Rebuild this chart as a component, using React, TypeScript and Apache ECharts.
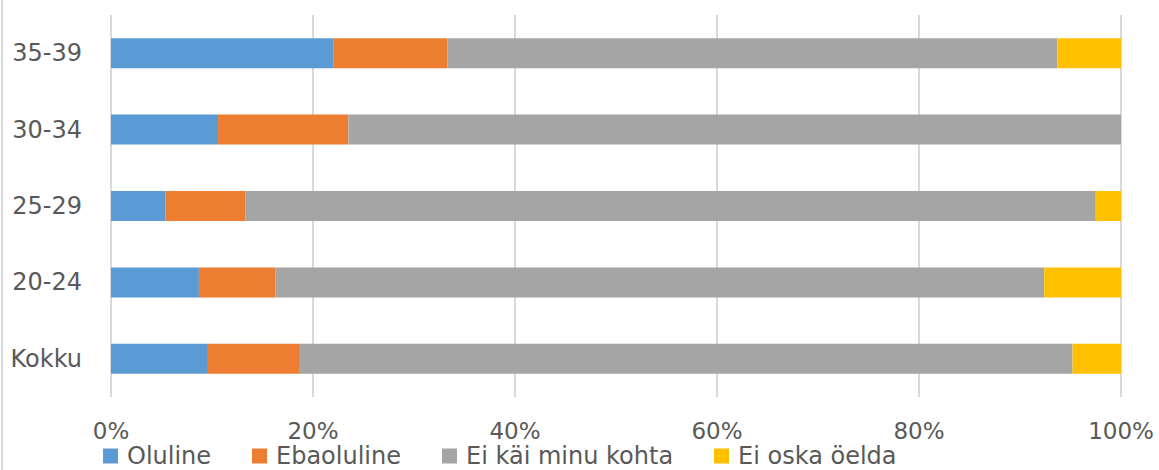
import React, { useEffect, useRef } from "react";
import * as echarts from "echarts";

const categories = ["Kokku", "20-24", "25-29", "30-34", "35-39"];
const seriesNames = ["Oluline", "Ebaoluline", "Ei käi minu kohta", "Ei oska öelda"];
const oluline = [9.6, 8.7, 5.4, 10.6, 22.0];
const ebaoluline = [9.1, 7.6, 7.9, 12.9, 11.3];
const eiKai = [76.5, 76.1, 84.2, 76.5, 60.4];
const eiOska = [4.8, 7.6, 2.5, 0, 6.3];
const colors = ["#5b9bd5", "#ed7d31", "#a5a5a5", "#ffc000"];
const xTicks = [0, 20, 40, 60, 80, 100];
const legendLefts = [103, 252, 442, 714];

export default function App() {
  const ref = useRef<HTMLDivElement>(null);
  useEffect(() => {
    document.body.style.margin = "0";
    const chart = echarts.init(ref.current!, null, { renderer: "svg" });
    const font = "'DejaVu Sans', sans-serif";
    const data = [oluline, ebaoluline, eiKai, eiOska];
    chart.setOption({
      animation: false,
      textStyle: { fontFamily: font },
      grid: { left: 111, right: 38, top: 15, bottom: 73, containLabel: false },
      xAxis: {
        type: "value",
        min: 0,
        max: 100,
        interval: 20,
        axisLine: { show: false },
        axisTick: { show: false },
        splitLine: { show: true, lineStyle: { color: "#d9d9d9", width: 2 } },
        axisLabel: {
          formatter: (v: number) => (xTicks.includes(v) ? v + "%" : ""),
          color: "#595959",
          fontSize: 23,
          fontFamily: font,
          margin: 22,
        },
      },
      yAxis: {
        type: "category",
        data: categories,
        axisLine: { show: false },
        axisTick: { show: false },
        axisLabel: { color: "#595959", fontSize: 24, fontFamily: font, margin: 29 },
      },
      legend: seriesNames.map((name, i) => ({
        left: legendLefts[i],
        top: 444,
        padding: 0,
        itemWidth: 15,
        itemHeight: 15,
        icon: "rect",
        textStyle: { color: "#595959", fontSize: 24, fontFamily: font, padding: [0, 0, 0, 4] },
        data: [name],
      })),
      graphic: [
        {
          type: "line",
          shape: { x1: 2, y1: 0, x2: 2, y2: 470 },
          style: { stroke: "#d9d9d9", lineWidth: 2 },
        },
      ],
      series: seriesNames.map((name, i) => ({
        name,
        type: "bar",
        stack: "total",
        barWidth: 30,
        itemStyle: { color: colors[i] },
        data: data[i],
      })),
    });
    return () => chart.dispose();
  }, []);
  return <div ref={ref} style={{ width: 1159, height: 470 }} />;
}
